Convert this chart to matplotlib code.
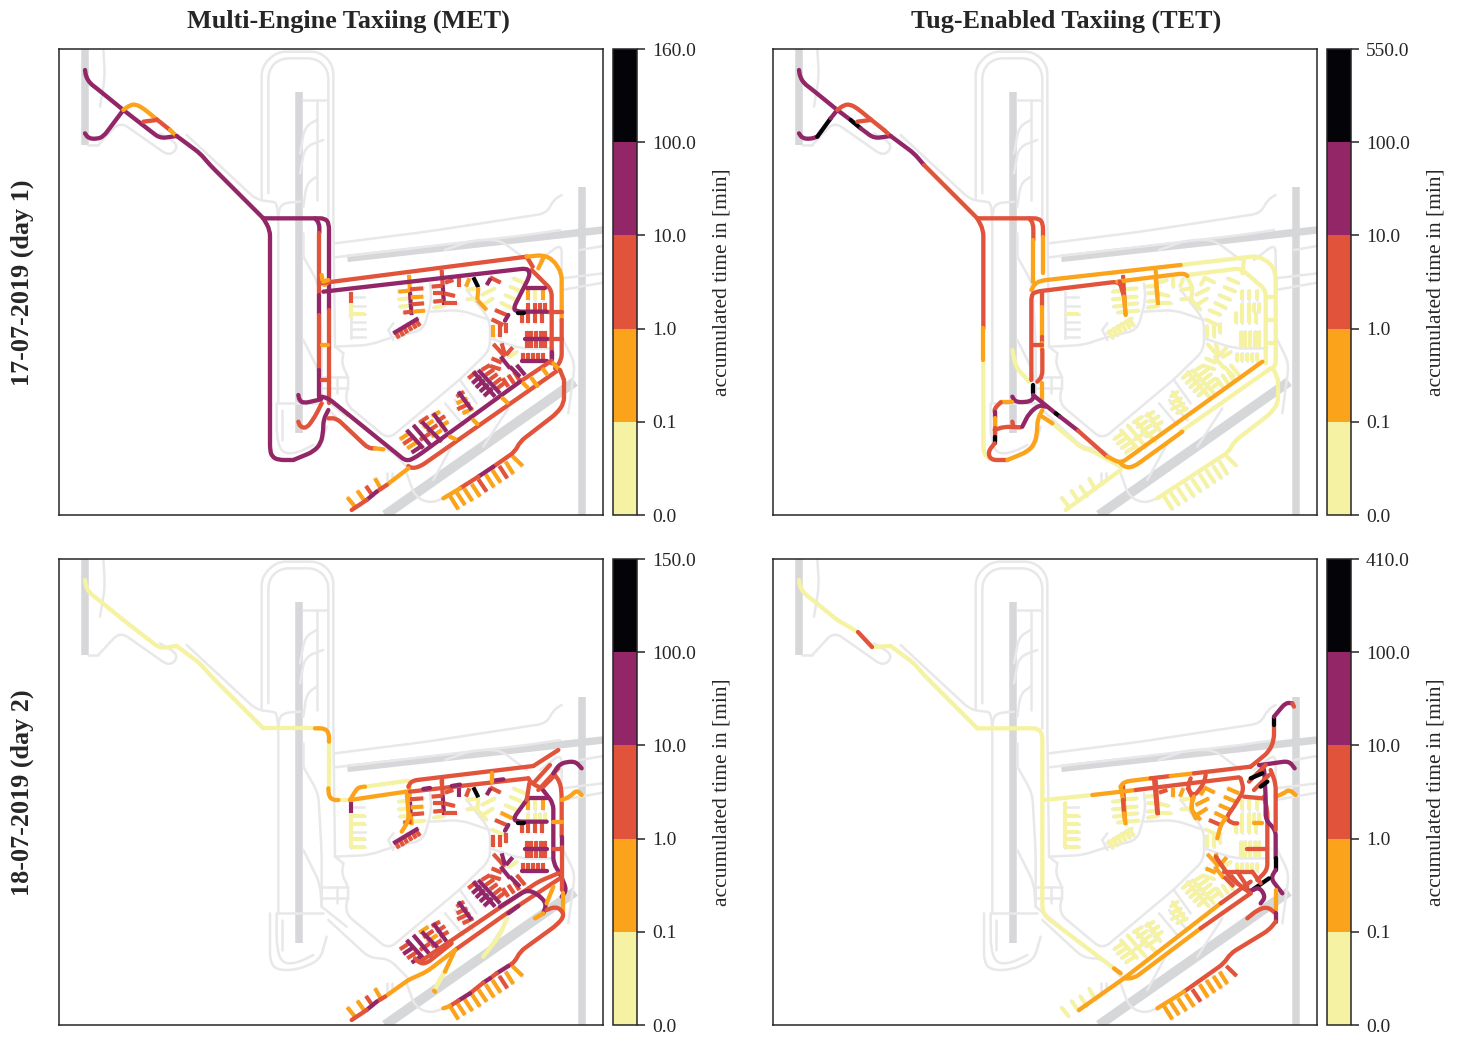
"""Airport taxi time maps, four panels with discrete colourbars."""
import math

import matplotlib
matplotlib.use("Agg")
import matplotlib.pyplot as plt
from matplotlib.cm import ScalarMappable
from matplotlib.colors import BoundaryNorm, ListedColormap
from matplotlib.patches import PathPatch
from matplotlib.path import Path

plt.rcParams["font.family"] = ["Liberation Serif", "DejaVu Serif"]

W, H = 1460, 1038

# level colours: 0 = <0.1, 1 = <1, 2 = <10, 3 = <100, 4 = above
COLORS = ["#f5f3a3", "#fba41b", "#e1533a", "#932667", "#040308"]
BASE = "#e8e8ea"
RUNWAY = "#d6d7d9"

COL_TITLES = ["Multi-Engine Taxiing (MET)", "Tug-Enabled Taxiing (TET)"]
ROW_TITLES = ["17-07-2019 (day 1)", "18-07-2019 (day 2)"]
TOP_BOUNDS = [[160.0, 550.0], [150.0, 410.0]]
BOUNDS = [0.0, 0.1, 1.0, 10.0, 100.0]

# map units are 1/3 screen pixel
RUNWAYS = [
    [(118, -444), (118, 578)],
    [(-525, -573), (-525, -285)],
    [(965, -160), (965, 825)],
    [(262, 55), (1029, -30)],
]
DIAGONAL_RUNWAY = [(375, 825), (945, 425)]
BASE_LINES = [
    [(5, -120), (5, -520), (50, -565), (180, -565), (220, -525), (220, -65), (225, 320)],
    [(25, -140), (25, -510), (60, -545), (170, -545), (205, -510), (205, -65)],
    [(-220, -315), (-10, -120), (40, -115), (50, -110), (55, -70), (55, 490)],
    [(-485, -285), (-420, -355), (-270, -250), (-242, -285), (-300, -320)],
    [(-515, -285), (-485, -285)],
    [(-470, -573), (-465, -490), (-480, -400)],
    [(130, -420), (200, -420)], [(170, -420), (170, -120)],
    [(120, -260), (135, -340), (170, -360)], [(120, -200), (135, -280), (190, -300)],
    [(130, -100), (140, -170), (170, -190)],
    [(55, -65), (60, -110), (120, -115)],
    [(225, 10), (500, -25), (860, -80), (880, -120), (905, -135)],
    [(225, 52), (800, -15), (900, -30)],
    [(905, 150), (1029, 128)], [(960, 30), (1029, 18)], [(905, 115), (1029, 100)],
    [(130, 50), (175, 130), (185, 310), (185, 470)],
    [(130, -20), (130, 50)],
    [(250, 340), (245, 375), (268, 415), (255, 490), (385, 598), (600, 418), (690, 330), (690, 240), (620, 150)],
    [(225, 320), (330, 315), (385, 295), (490, 270), (515, 180), (510, 130)],
    [(225, 320), (250, 340)],
    [(385, 270), (400, 250)], [(385, 270), (400, 300)],
    [(510, 215), (600, 210), (690, 240)],
    [(555, 490), (610, 555)], [(585, 480), (640, 540)], [(600, 420), (650, 490)],
    [(690, 295), (780, 325), (880, 325)],
    [(440, 700), (465, 770), (510, 790), (550, 775)],
    [(745, 505), (670, 620)], [(580, 610), (520, 720)],
    [(905, 290), (945, 370), (925, 520)],
    [(840, 60), (905, 10), (905, 100)], [(555, 30), (640, 0), (720, 0), (800, 60)],
    [(30, 490), (30, 635), (50, 660), (110, 660), (180, 630), (200, 560)],
    [(50, 490), (50, 590), (65, 640), (110, 640), (160, 615)],
    [(50, 490), (190, 490)], [(65, 510), (65, 600)],
    [(205, 510), (330, 625), (385, 625), (440, 680)],
    [(230, 410), (230, 460)], [(190, 410), (265, 410)], [(190, 445), (265, 445)],
    [(130, 300), (180, 400), (185, 470)],
    [(185, 470), (260, 530)],
    [(380, 700), (380, 725)], [(395, 700), (395, 715)],
]

# one tuple is one stand stub: x0, y0, x1, y1
STANDS_W = [(272, 155, 272, 190), (272, 190, 272, 235), (272, 235, 272, 295), (272, 172, 312, 172),
            (272, 197, 315, 197), (272, 222, 315, 222), (272, 245, 315, 245), (272, 268, 315, 268),
            (272, 292, 315, 292)]
STANDS_A = [(447, 105, 450, 155), (450, 155, 452, 190), (452, 190, 455, 225),
            (415, 155, 447, 152), (415, 178, 449, 175), (418, 200, 450, 197), (430, 218, 455, 215),
            (490, 145, 450, 148), (490, 170, 452, 172), (492, 190, 455, 193), (495, 212, 458, 215)]
STANDS_B = [(545, 90, 548, 135), (548, 135, 552, 195),
            (515, 140, 548, 137), (520, 160, 550, 160), (520, 185, 550, 182), (520, 203, 553, 198),
            (555, 128, 580, 120), (552, 160, 585, 168), (553, 190, 590, 190)]
STANDS_C = [(597, 115, 597, 140), (628, 115, 618, 140), (620, 150, 650, 145), (620, 178, 652, 175),
            (640, 112, 655, 142), (655, 142, 652, 180), (652, 180, 680, 210),
            (665, 165, 705, 145), (668, 195, 700, 175), (690, 112, 722, 128), (680, 135, 692, 115)]
STANDS_D = [(760, 115, 795, 130), (750, 140, 785, 155), (735, 165, 770, 180), (722, 188, 757, 205),
            (705, 210, 740, 225), (695, 238, 730, 255), (700, 255, 700, 290), (720, 255, 720, 290),
            (737, 250, 737, 280)]
STANDS_E = [(805, 188, 805, 215), (825, 188, 825, 215), (840, 188, 840, 215), (855, 188, 855, 215),
            (785, 215, 785, 250), (805, 215, 805, 250), (825, 215, 825, 250), (845, 215, 845, 250),
            (805, 150, 805, 180), (825, 150, 825, 180), (850, 150, 850, 180)]
STANDS_F = [(800, 272, 800, 297), (814, 272, 814, 297), (828, 272, 828, 297), (842, 272, 842, 297),
            (856, 272, 856, 297), (800, 297, 800, 325), (814, 297, 814, 325), (828, 297, 828, 325),
            (842, 297, 842, 325), (856, 297, 856, 325)]
STANDS_G = [(790, 340, 790, 362), (805, 340, 805, 362), (820, 340, 820, 362), (835, 340, 835, 362),
            (850, 340, 850, 362)]
STANDS_H = [(700, 312, 735, 350), (725, 310, 735, 345), (758, 322, 738, 345), (695, 355, 725, 368),
            (690, 378, 722, 388), (772, 335, 745, 352), (722, 350, 750, 385)]
STANDS_I = [(728, 415, 745, 440), (745, 405, 762, 430), (762, 395, 778, 420), (770, 375, 795, 405),
            (750, 380, 780, 410)]
STANDS_J = [(625, 415, 650, 395), (637, 430, 662, 408), (648, 443, 673, 420), (660, 455, 685, 433),
            (672, 468, 697, 445), (665, 390, 690, 375), (677, 405, 702, 388), (690, 418, 712, 402),
            (702, 432, 724, 415), (712, 445, 734, 428), (640, 395, 705, 470), (655, 390, 720, 460)]
STANDS_K = [(590, 470, 612, 455), (590, 490, 622, 475), (592, 508, 630, 490), (608, 520, 640, 505),
            (595, 455, 635, 510)]
STANDS_L = [(420, 598, 450, 578), (430, 612, 460, 592), (442, 625, 472, 605), (455, 638, 485, 618),
            (478, 548, 505, 530), (490, 562, 520, 542), (502, 575, 532, 555), (515, 590, 545, 570),
            (515, 528, 540, 515), (530, 545, 555, 528), (540, 560, 565, 545), (480, 600, 510, 580),
            (440, 570, 490, 625), (460, 555, 515, 620), (485, 545, 545, 605), (520, 520, 560, 575)]
STANDS_M = [(405, 272, 417, 295), (418, 265, 430, 288), (430, 258, 442, 280), (442, 250, 455, 272),
            (455, 243, 468, 265), (465, 237, 480, 258), (400, 280, 475, 235)]
STANDS_SW = [(262, 772, 285, 800), (292, 752, 315, 785), (318, 738, 340, 770), (345, 715, 365, 750)]
STANDS_S = [(570, 768, 595, 808), (590, 757, 615, 795), (612, 745, 637, 783), (635, 732, 660, 770),
            (655, 718, 680, 755), (677, 703, 702, 742), (697, 690, 722, 728), (718, 678, 742, 715),
            (737, 665, 760, 702), (757, 648, 788, 678)]
STAND_GROUPS = [STANDS_W, STANDS_A, STANDS_B, STANDS_C, STANDS_D, STANDS_E, STANDS_F, STANDS_G,
                STANDS_H, STANDS_I, STANDS_J, STANDS_K, STANDS_L, STANDS_M, STANDS_SW, STANDS_S]

# one digit per stub, in group order; "." = no traffic
STAND_LEVELS_MET1 = ["20...0...", "13310022121", "232220222", "21004110023", "000022122",
                     "22222222101", "2222222222", "22222", "2222203", "22233",
                     "233332222233", "21213", "1213212112123333", "2222223", "1121", "1111211211"]
STAND_LEVELS_TET1 = [".....0...", "22100000000", "110000000", "00000000000", "000000000",
                     "00000000000", "0000000000", "00000", "0000000", "00000",
                     "000000000000", "00000", "0000000000000000", "0000000", "0000", "0000000000"]
STAND_LEVELS_MET2 = ["300.00.00", "13100022120", "232220222", "32004000023", "000120222",
                     "00002222101", "2222222222", "22222", "2332203", "22223",
                     "233332222233", "22223", "2323121222223333", "2222223", "1121", "1111111211"]
STAND_LEVELS_TET2 = ["000.00000", "21100000000", "220000200", "11002111111", "111120000",
                     "00000000000", "0000000000", "00000", "1111001", "00022",
                     "000000000000", "00000", "0000000000000000", "0000000", "0000", "1111211112"]

WEST_TOP = [(-525, -510), (-522, -490), (-510, -470), (-490, -455), (-410, -390)]
WEST_BRANCH = [(-525, -320), (-515, -305), (-490, -303), (-470, -310), (-410, -390)]
WEST_LOW = [(-410, -390), (-300, -305), (-250, -312)]
WEST_HIGH_A = [(-410, -390), (-390, -405), (-372, -407), (-350, -395), (-310, -362)]
WEST_HIGH_B = [(-310, -362), (-270, -330)]
WEST_HIGH_C = [(-270, -330), (-250, -312)]
WEST_X = [(-350, -355), (-310, -360)]
WEST_MAIN = [(-250, -312), (-180, -260), (-150, -225), (10, -65)]
CROSS = [(10, -65), (165, -65)]
SOUTH_LOOP = [(100, 660), (160, 635), (183, 610), (190, 570), (190, 540), (205, 510)]
PERIMETER = [(912, 420), (912, 490), (890, 520), (780, 605), (765, 635), (550, 775)]

ROUTES_MET1 = [
    (3, WEST_TOP), (3, WEST_BRANCH), (3, WEST_LOW), (1, WEST_HIGH_A), (2, WEST_HIGH_B), (1, WEST_HIGH_C),
    (2, WEST_X), (3, WEST_MAIN), (3, CROSS + [(195, -65), (207, -50), (207, 210)]),
    (3, [(165, -65), (178, -50), (178, -22)]),
    (3, [(10, -65), (30, -30), (30, 630), (36, 650), (55, 660), (100, 660)]), (3, SOUTH_LOOP),
    (2, [(178, -22), (178, 165)]), (3, [(178, 165), (178, 225)]), (2, [(178, 225), (178, 390)]),
    (3, [(178, 390), (178, 470)]), (2, [(207, 210), (207, 490)]),
    (1, [(185, 315), (205, 315)]), (2, [(185, 420), (205, 420)]), (1, [(185, 105), (190, 140), (205, 125)]),
    (2, [(180, 130), (800, 50)]), (2, [(800, 50), (818, 80)]),
    (1, [(800, 50), (850, 45), (880, 60), (905, 100), (905, 240)]), (1, [(852, 50), (835, 85)]),
    (2, [(905, 240), (905, 360), (885, 385)]),
    (2, [(815, 90), (850, 125), (875, 150), (875, 370)]),
    (2, [(860, 215), (905, 215)]), (2, [(860, 297), (905, 297)]), (3, [(875, 335), (875, 358)]),
    (3, [(800, 145), (855, 145)]),
    (3, [(190, 155), (800, 85), (808, 95), (808, 110), (760, 205), (770, 215), (860, 215)]),
    (4, [(775, 218), (792, 218)]), (3, [(745, 225), (735, 242)]),
    (3, [(795, 297), (860, 297)]), (3, [(785, 362), (860, 362)]),
    (2, [(875, 362), (780, 425)]), (3, [(780, 425), (470, 650), (440, 665), (205, 475), (185, 470)]),
    (2, [(895, 390), (480, 680), (455, 685), (445, 678)]),
    (1, [(570, 590), (585, 597)]), (1, [(640, 540), (652, 552)]), (1, [(728, 475), (742, 488)]),
    (1, [(790, 430), (802, 442)]), (1, [(815, 415), (832, 438)]), (1, [(850, 388), (860, 402)]),
    (1, [(880, 370), (900, 392)]),
    (2, [(900, 390), (912, 420)]), (2, PERIMETER[:5] + [(700, 680)]), (3, [(700, 680), (655, 710)]),
    (2, [(655, 710), (600, 745)]), (1, [(600, 745), (550, 775)]),
    (1, [(445, 685), (380, 735)]), (2, [(380, 735), (350, 755)]), (3, [(350, 755), (320, 780)]),
    (2, [(320, 780), (275, 810)]),
    (2, [(205, 535), (230, 535), (325, 625), (345, 625)]), (1, [(345, 625), (370, 628)]),
    (2, [(185, 490), (165, 530), (140, 565), (120, 560), (115, 545)]),
    (3, [(183, 478), (130, 490), (118, 480), (115, 465)]),
    (1, [(190, 125), (205, 120)]),
]
ROUTES_TET1 = [
    (3, WEST_TOP), (3, [(-525, -320), (-515, -305), (-490, -303), (-470, -310)]),
    (4, [(-470, -310), (-430, -365)]), (3, [(-430, -365), (-410, -390)]),
    (3, [(-410, -390), (-370, -360)]), (4, [(-370, -360), (-340, -335)]), (3, [(-340, -335), (-300, -305), (-250, -312)]),
    (2, WEST_HIGH_A), (2, WEST_HIGH_B), (2, WEST_HIGH_C), (2, WEST_X),
    (3, WEST_MAIN[:3]), (2, [(-150, -225), (10, -65)]), (2, CROSS + [(195, -65), (207, -50), (207, -10)]),
    (2, [(165, -65), (178, -50), (178, 0)]), (1, [(178, 0), (178, 125)]), (1, [(207, -10), (207, 100)]),
    (2, [(10, -65), (28, -30), (28, 265)]), (1, [(28, 265), (28, 360)]), (0, [(28, 360), (28, 640), (45, 655)]),
    (0, [(115, 330), (125, 380), (165, 425)]),
    (0, [(620, 75), (850, 48), (890, 70), (905, 100), (905, 380), (880, 392)]),
    (0, [(640, 105), (800, 85), (875, 150), (875, 370)]), (0, [(810, 60), (805, 100)]),
    (0, [(875, 170), (905, 170)]), (0, [(875, 240), (905, 240)]), (0, [(875, 310), (905, 310)]),
    (0, [(900, 390), (912, 420)]), (0, PERIMETER),
    (0, [(620, 575), (890, 385)]), (0, [(235, 550), (325, 625), (350, 630), (440, 680)]),
    (0, [(440, 690), (275, 810)]),
    (1, [(172, 150), (182, 132), (200, 122), (620, 75)]),
    (2, [(172, 420), (172, 165), (185, 155), (430, 125), (440, 135)]),
    (1, [(430, 125), (630, 100), (640, 108)]),
    (2, [(205, 160), (205, 200)]), (1, [(205, 200), (205, 290)]), (2, [(205, 290), (205, 310)]),
    (1, [(205, 310), (205, 330)]), (2, [(205, 330), (205, 410), (190, 425)]), (2, [(175, 315), (205, 315)]),
    (4, [(177, 435), (177, 460)]), (1, [(205, 430), (205, 480)]),
    (3, [(177, 465), (245, 520)]), (4, [(245, 520), (258, 530)]), (3, [(258, 530), (312, 572)]),
    (2, [(312, 572), (400, 650)]), (1, [(400, 650), (440, 670), (865, 365)]),
    (1, [(440, 670), (455, 683), (480, 680), (625, 575)]), (1, [(205, 530), (235, 550)]),
    (2, [(437, 125), (450, 170)]), (1, [(450, 170), (455, 225)]), (1, [(545, 115), (550, 170)]),
    (3, [(115, 470), (125, 487), (170, 485), (180, 470)]),
    (1, [(115, 487), (80, 487)]), (2, [(80, 487), (62, 505), (62, 515)]), (3, [(62, 515), (62, 535)]),
    (1, [(62, 535), (62, 565)]), (2, [(62, 565), (62, 590)]), (4, [(62, 590), (62, 610)]),
    (2, [(62, 610), (42, 635), (50, 660), (100, 660)]), (1, SOUTH_LOOP),
    (2, [(62, 570), (90, 560), (140, 562)]), (2, [(115, 545), (118, 560)]),
    (3, [(145, 560), (165, 520), (195, 495), (215, 500)]),
]
ROUTES_MET2 = [
    (0, WEST_TOP), (0, WEST_LOW), (0, WEST_MAIN),
    (0, CROSS), (1, [(165, -65), (195, -65), (207, -50), (207, -25)]), (0, [(207, -25), (207, 115)]),
    (1, [(205, 115), (207, 140), (220, 150), (235, 150)]), (0, [(235, 150), (270, 150)]),
    (1, [(270, 150), (438, 125)]), (1, [(270, 150), (285, 125), (295, 112), (315, 110)]),
    (0, [(315, 110), (445, 92)]),
    (1, [(440, 125), (447, 210), (425, 245)]),
    (2, [(445, 110), (455, 92), (820, 48)]), (2, [(820, 48), (895, 0)]),
    (2, [(450, 125), (805, 85)]), (3, [(490, 117), (510, 114)]), (3, [(575, 108), (600, 104)]), (3, [(700, 92), (730, 88)]),
    (1, [(697, 70), (697, 95)]), (2, [(545, 85), (545, 105)]),
    (2, [(805, 85), (815, 100), (845, 115)]),
    (3, [(800, 145), (860, 145)]), (3, [(845, 115), (880, 160), (880, 340), (900, 370), (920, 420), (905, 440)]),
    (3, [(800, 150), (760, 205), (770, 215), (860, 215)]), (2, [(808, 100), (800, 150)]), (4, [(775, 218), (792, 218)]),
    (3, [(745, 225), (735, 242)]), (3, [(795, 297), (860, 297)]), (3, [(785, 362), (860, 362)]),
    (2, [(820, 100), (870, 45)]), (2, [(850, 110), (885, 75)]), (2, [(835, 120), (895, 55)]),
    (2, [(870, 90), (880, 70), (900, 95), (905, 130), (905, 260)]), (3, [(905, 260), (905, 290)]), (2, [(905, 290), (905, 420)]),
    (3, [(880, 70), (900, 40), (945, 33), (965, 55)]),
    (1, [(905, 150), (930, 140), (950, 120), (965, 135)]),
    (2, [(880, 297), (905, 297)]), (1, [(880, 215), (905, 215)]),
    (2, [(895, 370), (835, 395), (480, 635)]), (2, [(900, 385), (740, 490), (585, 600)]),
    (3, [(720, 470), (800, 420), (830, 430), (860, 460), (850, 490)]), (3, [(745, 490), (775, 468)]),
    (1, [(850, 490), (825, 505)]), (1, [(860, 460), (880, 410)]),
    (1, [(445, 690), (500, 665), (585, 600)]), (1, [(585, 600), (555, 665)]), (0, [(555, 665), (522, 722)]),
    (1, [(522, 722), (525, 725)]), (0, [(740, 505), (720, 555), (670, 620)]), (1, [(910, 430), (910, 490)]),
    (2, [(575, 580), (500, 640), (480, 640), (465, 625)]),
    (2, [(860, 480), (885, 470), (905, 480), (912, 500), (890, 525), (780, 605), (765, 635), (745, 648)]),
    (3, [(745, 648), (710, 670)]), (2, [(710, 670), (690, 685)]), (3, [(690, 685), (670, 698)]),
    (2, [(670, 698), (630, 730)]), (3, [(630, 730), (595, 752)]), (2, [(595, 752), (570, 768)]), (1, [(570, 768), (550, 775)]),
    (1, [(445, 690), (375, 740)]), (2, [(375, 740), (350, 755)]), (3, [(350, 755), (320, 780)]), (2, [(320, 780), (275, 810)]),
]
ROUTES_TET2 = [
    (0, WEST_TOP), (0, WEST_MAIN), (0, [(-410, -390), (-348, -354)]),
    (2, [(-348, -354), (-306, -309)]), (0, [(-306, -309), (-250, -312)]),
    (0, CROSS + [(190, -65), (205, -50), (205, 480), (215, 500), (420, 655)]), (1, [(420, 655), (440, 670)]),
    (0, [(210, 150), (355, 135)]),
    (1, [(355, 135), (485, 120)]), (2, [(485, 120), (795, 82)]),
    (1, [(440, 110), (450, 95), (530, 85)]), (2, [(530, 85), (590, 78)]), (1, [(590, 78), (660, 70)]), (2, [(660, 70), (830, 50)]),
    (1, [(440, 110), (447, 150)]), (2, [(447, 150), (450, 190)]), (1, [(450, 190), (452, 210)]),
    (2, [(540, 85), (550, 190)]),
    (2, [(650, 85), (640, 115), (660, 140), (690, 100), (695, 75)]),
    (1, [(660, 140), (650, 170), (665, 205)]),
    (2, [(800, 85), (810, 120), (780, 170), (755, 205), (775, 220), (790, 220)]),
    (1, [(840, 220), (865, 220)]), (1, [(730, 265), (740, 225), (755, 205)]),
    (2, [(810, 140), (865, 145)]), (2, [(870, 140), (880, 180), (880, 360), (850, 390)]),
    (3, [(855, 45), (870, 50), (875, 140), (875, 210), (905, 240), (905, 325)]),
    (4, [(905, 325), (905, 360)]), (3, [(905, 360), (890, 385), (925, 430)]),
    (2, [(830, 50), (885, 5), (900, -30), (900, -75)]), (4, [(900, -75), (900, -100)]),
    (3, [(900, -100), (935, -142), (955, -140)]), (2, [(955, -140), (960, -130)]),
    (3, [(860, 45), (945, 33), (962, 55)]),
    (2, [(825, 95), (875, 45)]), (4, [(830, 85), (865, 70)]), (2, [(840, 120), (885, 75)]), (4, [(860, 110), (880, 95)]),
    (1, [(905, 140), (930, 130), (945, 118), (965, 135)]),
    (2, [(890, 60), (905, 100), (905, 240)]), (2, [(820, 298), (880, 298)]),
    (1, [(905, 420), (905, 480)]),
    (2, [(820, 505), (850, 480), (880, 470), (905, 490)]), (3, [(905, 490), (905, 515)]),
    (2, [(905, 515), (885, 540), (770, 610), (750, 640), (630, 725)]), (1, [(630, 725), (550, 775)]),
    (1, [(315, 780), (450, 685), (740, 460)]), (2, [(740, 460), (830, 395)]),
    (1, [(450, 685), (480, 685), (680, 535)]), (2, [(680, 535), (830, 430)]),
    (4, [(835, 420), (885, 385)]),
    (3, [(810, 415), (830, 425), (855, 410), (875, 440), (860, 460)]),
    (2, [(750, 365), (835, 365)]), (2, [(725, 320), (770, 385), (830, 430)]),
    (2, [(835, 365), (860, 400)]), (2, [(790, 365), (820, 410)]),
]
ROUTES = [[ROUTES_MET1, ROUTES_TET1], [ROUTES_MET2, ROUTES_TET2]]
STAND_LEVELS = [[STAND_LEVELS_MET1, STAND_LEVELS_TET1], [STAND_LEVELS_MET2, STAND_LEVELS_TET2]]

LEFTS = [59, 773]
TOPS = [49, 559]
AX_W, AX_H = 544, 466


def px_axes(fig, x0, y0, w, h):
    return fig.add_axes([x0 / W, 1 - (y0 + h) / H, w / W, h / H])


def rounded(pts, r):
    # polyline with quadratic fillets at its corners
    verts, codes = [pts[0]], [Path.MOVETO]
    for i in range(1, len(pts) - 1):
        (px, py), (x, y), (nx, ny) = pts[i - 1], pts[i], pts[i + 1]
        d0, d1 = math.hypot(x - px, y - py), math.hypot(nx - x, ny - y)
        r0, r1 = min(r, d0 / 2), min(r, d1 / 2)
        verts += [(x + (px - x) * r0 / d0, y + (py - y) * r0 / d0), (x, y),
                  (x + (nx - x) * r1 / d1, y + (ny - y) * r1 / d1)]
        codes += [Path.LINETO, Path.CURVE3, Path.CURVE3]
    verts.append(pts[-1])
    codes.append(Path.LINETO)
    return Path(verts, codes)


def add_line(ax, pts, color, lw, z, r=18, cap="round"):
    ax.add_patch(PathPatch(rounded(pts, r), fill=False, edgecolor=color, linewidth=lw,
                           capstyle=cap, joinstyle="round", zorder=z))


def draw_map(ax, routes, stand_levels):
    for pts in RUNWAYS:
        ax.plot(*zip(*pts), color=RUNWAY, lw=5.4, solid_capstyle="butt", zorder=1)
    ax.plot(*zip(*DIAGONAL_RUNWAY), color=RUNWAY, lw=7.0, solid_capstyle="butt", zorder=1)
    for pts in BASE_LINES:
        add_line(ax, pts, BASE, 1.8, 2, r=28)
    for group in STAND_GROUPS:
        for x0, y0, x1, y1 in group:
            ax.plot([x0, x1], [y0, y1], color=BASE, lw=1.8, zorder=2)
    # pale traffic sits under everything else
    for group, digits in zip(STAND_GROUPS, stand_levels):
        for (x0, y0, x1, y1), d in zip(group, digits):
            if d != ".":
                ax.plot([x0, x1], [y0, y1], color=COLORS[int(d)], lw=3.0,
                        solid_capstyle="butt", zorder=3 if d == "0" else 5)
    for level, pts in routes:
        add_line(ax, pts, COLORS[level], 3.1, 4 if level == 0 else 6)
    ax.set_xlim(-603, 1029)
    ax.set_ylim(825, -573)
    ax.set_xticks([])
    ax.set_yticks([])
    for s in ax.spines.values():
        s.set_linewidth(1.1)
        s.set_color("#262626")


def main():
    fig = plt.figure(figsize=(W / 100, H / 100), dpi=100)
    cmap = ListedColormap(COLORS)
    for r, top in enumerate(TOPS):
        for c, left in enumerate(LEFTS):
            ax = px_axes(fig, left, top, AX_W, AX_H)
            draw_map(ax, ROUTES[r][c], STAND_LEVELS[r][c])

            bounds = BOUNDS + [TOP_BOUNDS[r][c]]
            cax = px_axes(fig, left + 554, top, 24, AX_H)
            norm = BoundaryNorm(bounds, len(COLORS))
            cb = fig.colorbar(ScalarMappable(norm=norm, cmap=cmap), cax=cax,
                              spacing="uniform", ticks=bounds, format="%.1f")
            cb.ax.tick_params(length=5.8, width=1.1, labelsize=14, pad=5, color="#262626",
                              labelcolor="#262626")
            cb.ax.minorticks_off()
            cb.outline.set_linewidth(1.1)
            cb.outline.set_edgecolor("#262626")
            cb.set_label("accumulated time in [min]", fontsize=15.5, labelpad=12, color="#262626")

    for x, t in zip([348, 1066], COL_TITLES):
        fig.text(x / W, 1 - 21 / H, t, ha="center", va="center", fontsize=18.8,
                 fontweight="bold", color="#262626")
    for y, t in zip([283, 793], ROW_TITLES):
        fig.text(22 / W, 1 - y / H, t, ha="center", va="center", rotation=90, fontsize=18.8,
                 fontweight="bold", color="#262626")

    fig.savefig("out.png", dpi=100)
    plt.close(fig)


if __name__ == "__main__":
    main()
